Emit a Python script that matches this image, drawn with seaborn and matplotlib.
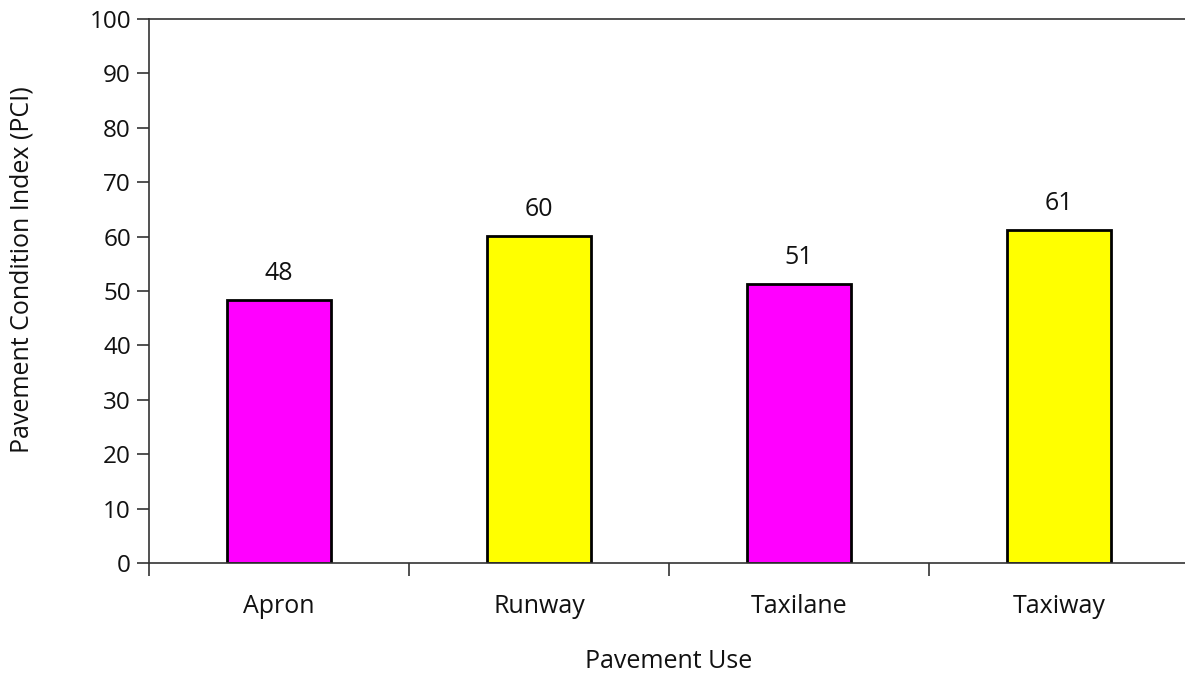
import numpy as np
import pandas as pd
import seaborn as sns
from matplotlib import pyplot as plt
from matplotlib.ticker import FixedLocator

uses = ["Apron", "Runway", "Taxilane", "Taxiway"]
pci = [48.4, 60.2, 51.3, 61.2]
bar_colors = ["#FF00FF", "#FFFF00", "#FF00FF", "#FFFF00"]

df = pd.DataFrame({"use": uses, "pci": pci})

sns.set_theme(style="white")
plt.rcParams['font.family'] = ['Open Sans', 'DejaVu Sans']
plt.rcParams['text.color'] = '#111111'
plt.rcParams['xtick.color'] = '#111111'
plt.rcParams['ytick.color'] = '#111111'
plt.rcParams['axes.labelcolor'] = '#111111'

fig = plt.figure(figsize=(11.85, 6.77), dpi=100)
ax = fig.add_axes([149 / 1185, 114 / 677, 1040 / 1185, 544 / 677])

sns.barplot(data=df, x="use", y="pci", hue="use", palette=bar_colors, saturation=1,
            width=0.4, edgecolor="black", linewidth=2, legend=False, ax=ax)

for cont in ax.containers:
    ax.bar_label(cont, fmt="%.0f", padding=10, fontsize=18)

ax.set_ylim(0, 100)
ax.set_xlim(-0.5, 3.5)
ax.set_yticks(np.arange(0, 101, 10))
ax.tick_params(axis="y", direction="out", length=9, width=1.2, color="#333333",
               labelsize=17.5, left=True, pad=4)
ax.tick_params(axis="x", which="major", length=0, labelsize=18, pad=22)
ax.xaxis.set_minor_locator(FixedLocator([-0.5, 0.5, 1.5, 2.5]))
ax.tick_params(axis="x", which="minor", direction="out", length=9, width=1.2,
               color="#333333", bottom=True)

ax.spines["right"].set_visible(False)
for side in ["left", "bottom", "top"]:
    ax.spines[side].set_color("#333333")
    ax.spines[side].set_linewidth(1.2)

ax.set_xlabel("Pavement Use", fontsize=18, labelpad=22)
ax.set_ylabel("Pavement Condition Index (PCI)", fontsize=18)
ax.yaxis.set_label_coords(-0.11, 0.54)

fig.savefig("out.png", dpi=100)
